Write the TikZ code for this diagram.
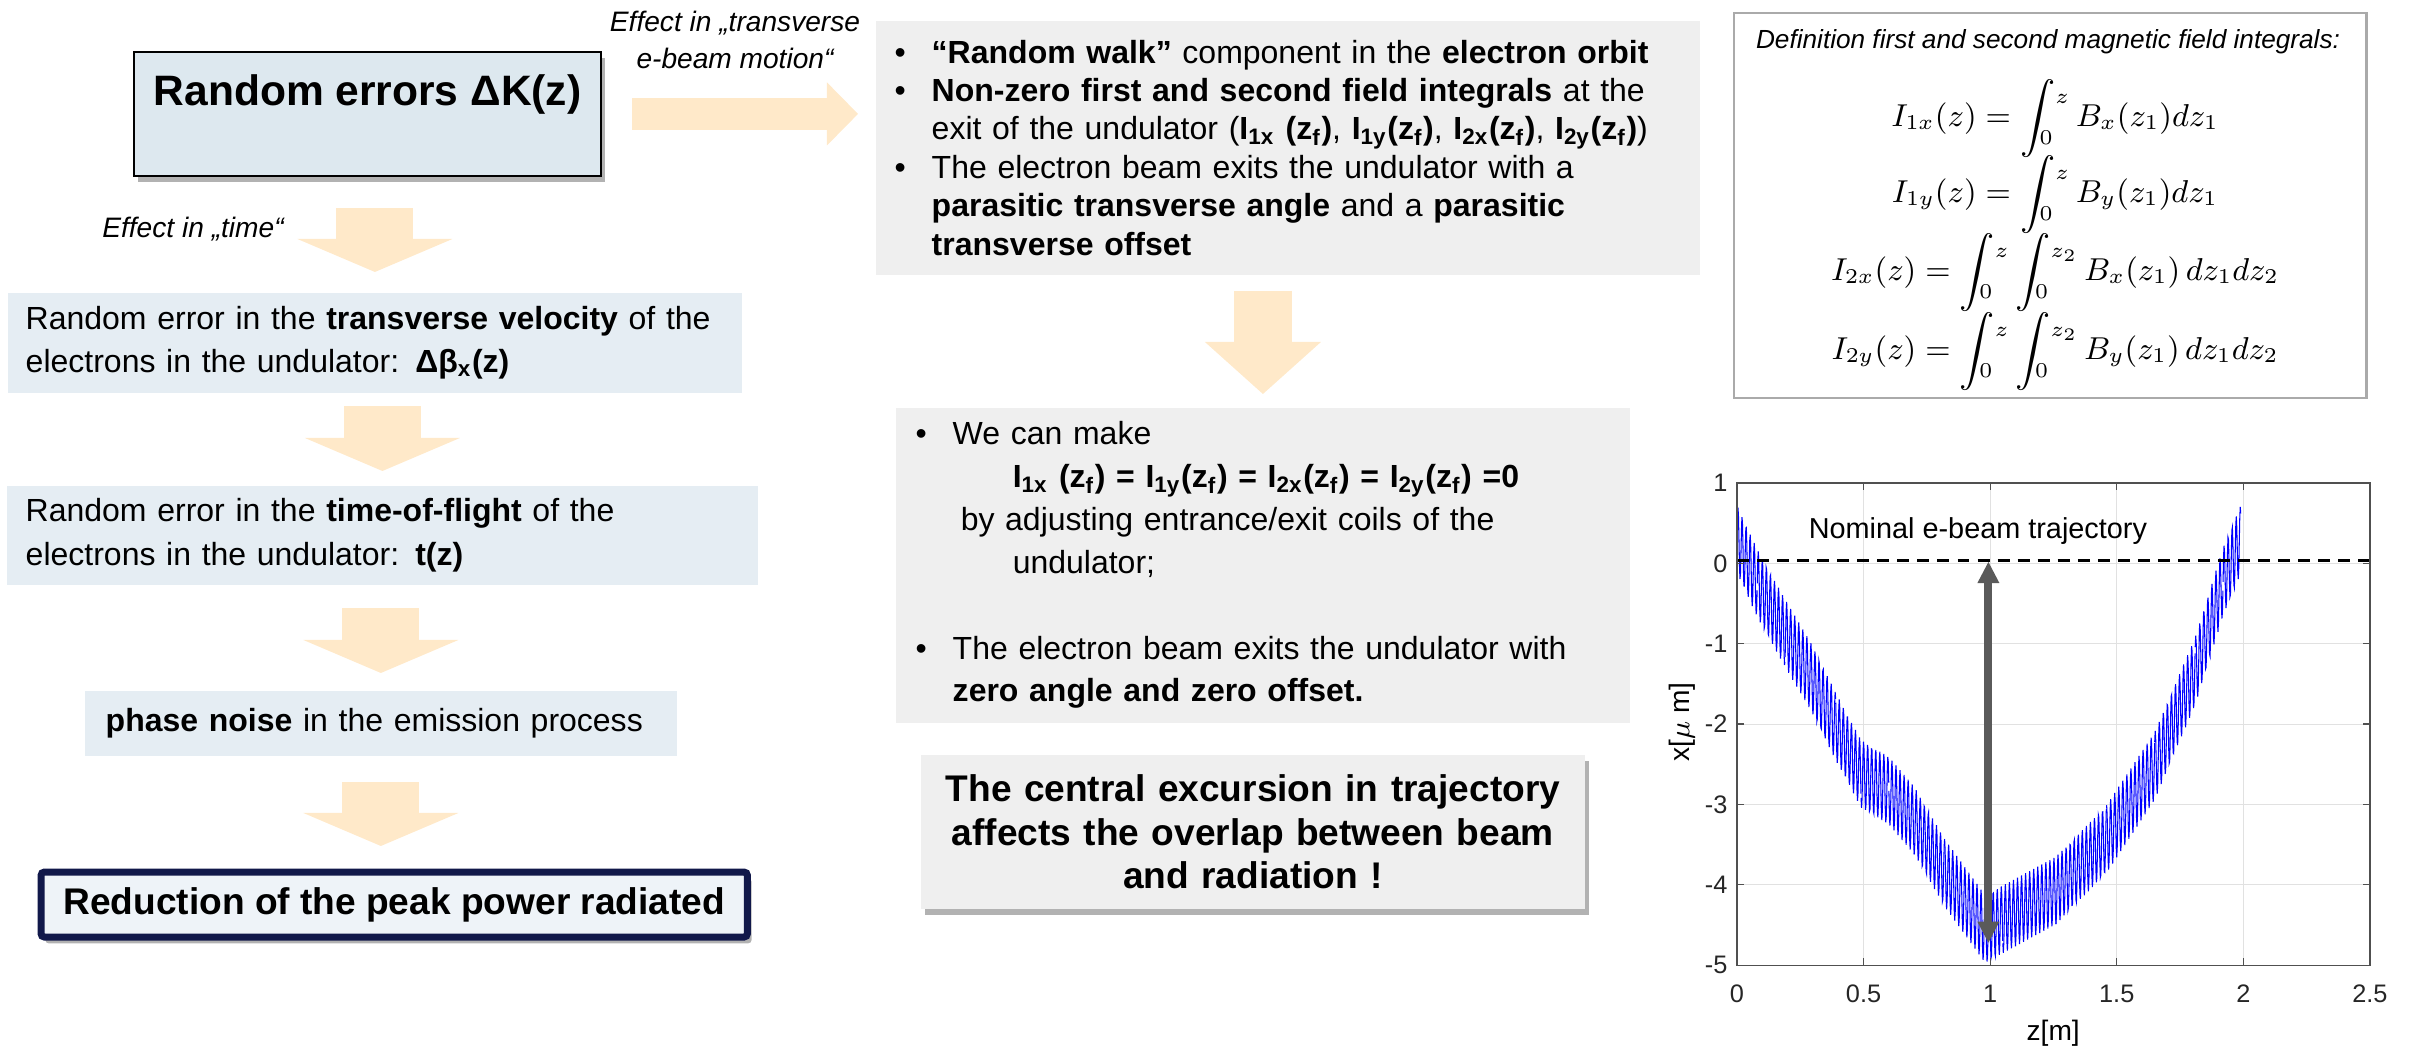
\documentclass[tikz,border=0pt]{standalone}
\usepackage[no-math]{fontspec}
\setmainfont{Liberation Sans}
\usetikzlibrary{arrows.meta,shadows}

\definecolor{beamc}{RGB}{255,233,201}
\definecolor{rkfill}{RGB}{221,232,239}
\definecolor{stepfill}{RGB}{229,237,243}
\definecolor{redfill}{RGB}{238,243,248}
\definecolor{redline}{RGB}{17,24,74}
\definecolor{boxgray}{RGB}{239,239,239}
\definecolor{defline}{RGB}{170,170,170}
\definecolor{gridc}{RGB}{225,225,225}
\definecolor{axisc}{RGB}{80,80,80}
\definecolor{tickc}{RGB}{38,38,38}
\definecolor{gaparr}{RGB}{90,90,90}

\newcommand{\itemdot}{\makebox[0.37cm][l]{•}}
% integral with limits tucked in
\newcommand{\tuckint}[2]{\int_{\raisebox{4pt}{$\scriptstyle #1$}}^{\raisebox{-4.5pt}{$\scriptstyle #2$}}}

\begin{document}
\begin{tikzpicture}[x=0.01cm,y=-0.01cm,
	fatarr/.style n args={3}{draw=beamc,line width=#1,-{Triangle[width=#2,length=#3,line width=0pt]}},
	stepbox/.style={fill=stepfill,anchor=north west,inner ysep=0pt,align=left,font=\fontsize{9.1}{12.5}\selectfont},
	graybox/.style={fill=boxgray,anchor=north west,inner ysep=0pt},
	boxshadow/.style={drop shadow={shadow xshift=1.2pt,shadow yshift=-1.8pt,opacity=0.3,fill=black}},
	efflabel/.style={font=\fontsize{8}{10.5}\selectfont\itshape},
	eqline/.style={font=\fontsize{8.8}{11}\selectfont,inner sep=0pt},
	tickl/.style={font=\fontsize{7.2}{8}\selectfont,text=tickc,inner sep=0pt},
	plotf/.style={font=\fontsize{8}{9}\selectfont,inner sep=0pt}]
	\useasboundingbox (0,0) rectangle (2409,1049);

	%% left column
	\node[draw=black,line width=0.5pt,fill=rkfill,minimum width=4.67cm,minimum height=1.24cm,anchor=north west,boxshadow] (rk) at (133,51) {};
	\node[font=\fontsize{12.1}{14.5}\selectfont\bfseries] (rkt) at ([shift={(0,44)}]rk.north) {Random errors ΔK(z)};
	\node[efflabel,align=center] (effx) at (735,40) {Effect in „transverse\\e-beam motion“};
	\node[efflabel] (efft) at (193,229) {Effect in „time“};
	\node[stepbox,text width=6.98cm,inner xsep=0.18cm,minimum height=1cm] (velo) at (7,292) {Random error in the \textbf{transverse velocity} of the\\electrons in the undulator: \textbf{Δβ\textsubscript{x}(z)}};
	\node[stepbox,text width=7.13cm,inner xsep=0.19cm,minimum height=0.99cm] (tof) at (6,485) {Random error in the \textbf{time-of-flight} of the\\electrons in the undulator: \textbf{t(z)}};
	\node[stepbox,text width=5.50cm,inner xsep=0.21cm,minimum height=0.65cm] (ph) at (84,690) {\textbf{phase noise} in the emission process};
	\node[draw=redline,line width=2pt,fill=redfill,rounded corners=1pt,minimum width=7.06cm,minimum height=0.65cm,anchor=north west,font=\fontsize{10.55}{12.5}\selectfont\bfseries,boxshadow] (red) at (37.5,868.5) {Reduction of the peak power radiated};

	%% middle column
	\node[graybox,text width=7.86cm,inner xsep=0.19cm,minimum height=2.54cm,align=left,font=\fontsize{9.1}{10.93}\selectfont] (g1) at (875,20) {\itemdot\textbf{“Random walk”} component in the \textbf{electron orbit}\\
		\itemdot\textbf{Non-zero first and second field integrals} at the\\
		\hspace*{0.37cm}exit of the undulator (\textbf{I\textsubscript{1x} (z\textsubscript{f})}, \textbf{I\textsubscript{1y}(z\textsubscript{f})}, \textbf{I\textsubscript{2x}(z\textsubscript{f})}, \textbf{I\textsubscript{2y}(z\textsubscript{f})})\\
		\itemdot The electron beam exits the undulator with a\\
		\hspace*{0.37cm}\textbf{parasitic transverse angle} and a \textbf{parasitic}\\
		\hspace*{0.37cm}\textbf{transverse offset}};
	\node[graybox,text width=6.94cm,inner xsep=0.20cm,minimum height=3.15cm,align=left,font=\fontsize{9.1}{12.18}\selectfont] (m2) at (895,407) {\itemdot We can make\\
		\hspace*{0.97cm}\textbf{I\textsubscript{1x} (z\textsubscript{f}) = I\textsubscript{1y}(z\textsubscript{f}) = I\textsubscript{2x}(z\textsubscript{f}) = I\textsubscript{2y}(z\textsubscript{f}) =0}\\
		\hspace*{0.45cm}by adjusting entrance/exit coils of the\\
		\hspace*{0.97cm}undulator;\\
		\mbox{}\\
		\itemdot The electron beam exits the undulator with\\
		\hspace*{0.37cm}\textbf{zero angle and zero offset.}};
	\node[graybox,text width=6.64cm,inner xsep=0pt,minimum height=1.54cm,align=center,font=\fontsize{10.55}{12.5}\selectfont\bfseries,boxshadow] (cen) at (920,754) {The central excursion in trajectory\\affects the overlap between beam\\and radiation !};

	%% block arrows
	\draw[fatarr={3.2mm}{6.3mm}{3.1mm},shorten <=3mm,shorten >=1.7mm] (rk.east) -- (rk.east -| g1.west);
	\draw[fatarr={7.7mm}{15.5mm}{3.3mm},shorten <=3.1mm,shorten >=2mm] (rk.south -| velo.north) -- (velo.north);
	\draw[fatarr={7.7mm}{15.5mm}{3.3mm},shorten <=1.3mm,shorten >=1.4mm] (velo.south -| tof.north) -- (tof.north);
	\draw[fatarr={7.7mm}{15.5mm}{3.3mm},shorten <=2.3mm,shorten >=1.7mm] (tof.south -| ph.north) -- (ph.north);
	\draw[fatarr={7.7mm}{15.5mm}{3.3mm},shorten <=2.6mm,shorten >=2.25mm] (ph.south) -- (ph.south |- red.north);
	\draw[fatarr={5.8mm}{11.6mm}{5.2mm},shorten <=1.5mm,shorten >=1.3mm] (g1.south -| m2.north) -- (m2.north);

	%% definitions
	\node[draw=defline,line width=0.6pt,fill=white,minimum width=6.32cm,minimum height=3.85cm,anchor=north west] (defbox) at (1733,12) {};
	\node[font=\fontsize{7.45}{9}\selectfont\itshape] (deft) at (2048,42) {Definition first and second magnetic field integrals:};
	\node[eqline] (eqa) at (2055,119) {$\displaystyle I_{1x}(z)=\tuckint{0}{z} B_x(z_1)dz_1$};
	\node[eqline] (eqb) at (2055,195) {$\displaystyle I_{1y}(z)=\tuckint{0}{z} B_y(z_1)dz_1$};
	\node[eqline] (eqc) at (2055,273) {$\displaystyle I_{2x}(z)=\tuckint{0}{z}\tuckint{0}{z_2} B_x(z_1)\,dz_1dz_2$};
	\node[eqline] (eqd) at (2055,352) {$\displaystyle I_{2y}(z)=\tuckint{0}{z}\tuckint{0}{z_2} B_y(z_1)\,dz_1dz_2$};

	%% trajectory plot
	\begin{scope}[shift={(1737,563.3)},x=2.53cm,y=0.8033cm]
		\foreach \zz in {0.5,1,1.5,2} \draw[gridc,line width=0.3pt] (\zz,-5) -- (\zz,1);
		\foreach \vv in {-4,-3,-2,-1,0} \draw[gridc,line width=0.3pt] (0,\vv) -- (2.5,\vv);
		\foreach \za/\ca/\zb/\cb in {0/0.30/0.08/-0.25,0.08/-0.25/0.19/-0.87,0.19/-0.87/0.29/-1.40,0.29/-1.40/0.39/-2.03,
			0.39/-2.03/0.49/-2.62,0.49/-2.62/0.60/-2.83,0.60/-2.83/0.70/-3.20,0.70/-3.20/0.82/-3.85,0.82/-3.85/0.98/-4.55,
			0.98/-4.55/1.05/-4.43,1.05/-4.43/1.26/-4.07,1.26/-4.07/1.46/-3.43,1.46/-3.43/1.65/-2.52,1.65/-2.52/1.81/-1.34,
			1.81/-1.34/1.92/-0.23,1.92/-0.23/1.99/0.30}{
			\pgfmathtruncatemacro\ns{500*(\zb-\za)+2}
			\draw[blue,line width=0.3pt] plot[domain=\za:\zb,samples=\ns] (\x,{\ca+(\cb-\ca)*(\x-\za)/(\zb-\za)+0.42*sin(360*mod(62.5*\x,1))});
		}
		\coordinate (nomL) at (0,0.037);
		\coordinate (nomR) at (2.5,0.037);
		\draw[black,line width=0.85pt,dash pattern=on 3.4pt off 2.3pt] (nomL) -- (nomR);
		\node[plotf,font=\fontsize{8.2}{9}\selectfont,anchor=west] (nomt) at (0.281,0.40) {Nominal e-beam trajectory};
		\coordinate (exctop) at (0.993,0.016);
		\coordinate (excbot) at (0.993,-4.72);
		\draw[gaparr,line width=0.8mm,{Triangle[width=2.2mm,length=2.1mm,line width=0pt]}-{Triangle[width=2.2mm,length=2.1mm,line width=0pt]}] (exctop) -- (excbot);
		\draw[axisc,line width=0.35pt] (0,-5) rectangle (2.5,1);
		\foreach \zz in {0,0.5,1,1.5,2,2.5} {
			\draw[axisc,line width=0.35pt] (\zz,-5) -- ++(0,0.087);
			\draw[axisc,line width=0.35pt] (\zz,1) -- ++(0,-0.087);
		}
		\foreach \vv in {-5,-4,-3,-2,-1,0,1} {
			\draw[axisc,line width=0.35pt] (0,\vv) -- ++(0.028,0);
			\draw[axisc,line width=0.35pt] (2.5,\vv) -- ++(-0.028,0);
		}
		\foreach \vv [count=\k] in {-5,-4,-3,-2,-1,0,1} \node[tickl,anchor=east] (ylab\k) at (-0.035,\vv) {\vv};
		\foreach \zz [count=\k] in {0,0.5,1,1.5,2,2.5} \node[tickl] (xlab\k) at (\zz,-5.36) {\zz};
		\node[plotf,rotate=90] (ylabel) at (-0.217,-1.976) {x[$\mu$ m]};
		\node[plotf] (xlabel) at (1.249,-5.85) {z[m]};
	\end{scope}
\end{tikzpicture}
\end{document}
